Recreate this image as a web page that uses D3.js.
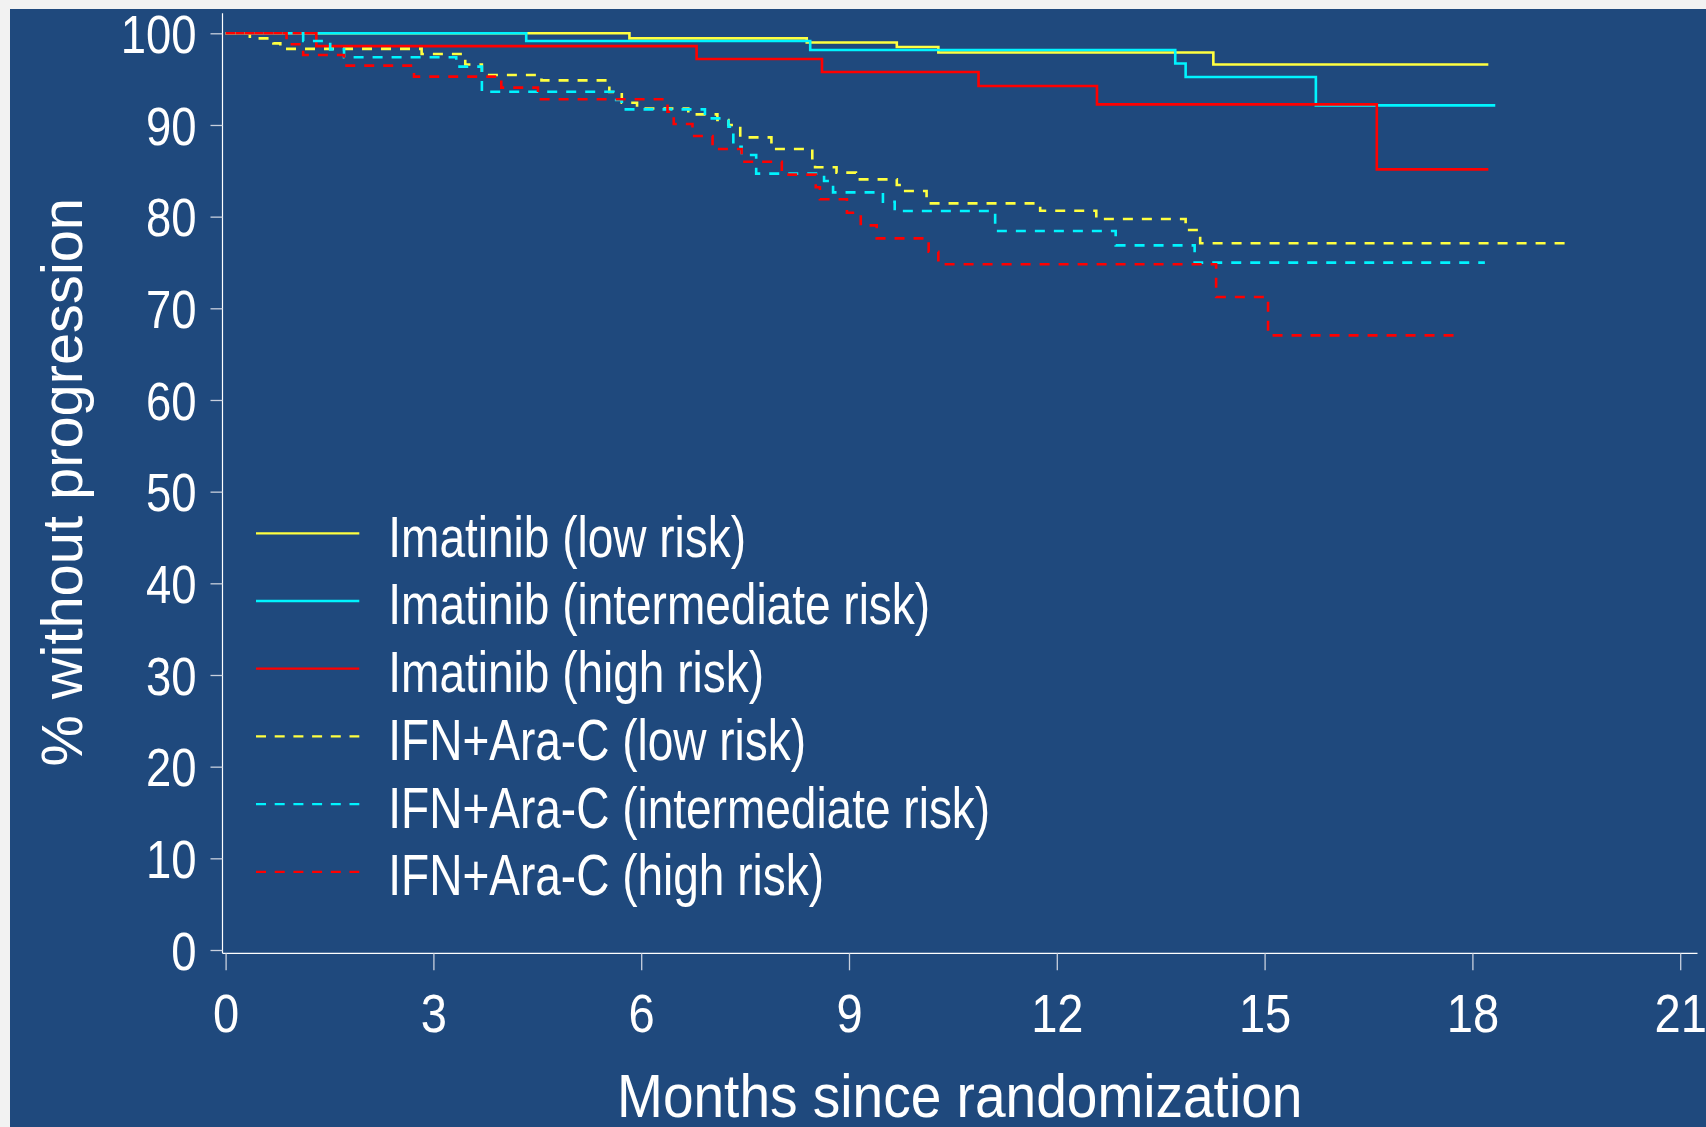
<!DOCTYPE html>
<html>
<head>
<meta charset="utf-8">
<script src="https://d3js.org/d3.v7.min.js"></script>
<style>
  body { margin: 0; background: #f2f2f2; }
  text { font-family: "Liberation Sans", Arial, sans-serif; fill: #ffffff; }
</style>
</head>
<body>
<div id="my_chart"></div>
<script>
// Kaplan-Meier steps: month where each step starts, % without progression from there on
// (last entry = end of follow-up)
const imaLowMonths = [0, 5.83, 8.39, 9.69, 10.29, 14.26, 18.23];
const imaLowPct = [100, 99.45, 99.0, 98.5, 97.9, 96.6, 96.6];

const imaIntMonths = [0, 4.34, 8.44, 13.71, 13.86, 15.74, 18.33];
const imaIntPct = [100, 99.16, 98.18, 96.7, 95.23, 92.14, 92.14];

const imaHighMonths = [0, 1.31, 6.8, 8.61, 10.87, 12.58, 16.62, 18.23];
const imaHighPct = [100, 98.6, 97.2, 95.78, 94.25, 92.25, 85.16, 85.16];

const ifnLowMonths = [0, 0.35, 0.69, 0.79, 2.83, 3.46, 3.7, 4.56, 5.54, 5.72, 5.94, 6.68, 7.1, 7.26,
  7.43, 7.88, 8.47, 8.51, 8.82, 9.1, 9.69, 9.79, 10.12, 11.76, 12.57, 13.86, 14.07, 19.41];
const ifnLowPct = [100, 99.45, 98.9, 98.3, 97.74, 96.6, 95.45, 94.87, 93.6, 92.43, 91.8, 91.16, 90.54, 90.0,
  88.65, 87.38, 85.98, 85.38, 84.8, 84.07, 83.45, 82.8, 81.45, 80.65, 79.74, 78.54, 77.09, 77.09];

const ifnIntMonths = [0, 1.12, 1.51, 1.71, 3.33, 3.7, 5.6, 5.72, 6.92, 7.26, 7.33, 7.45, 7.66, 8.64,
  8.77, 9.49, 9.66, 11.11, 12.85, 13.99, 18.18];
const ifnIntPct = [100, 99.16, 98.25, 97.38, 96.36, 93.63, 92.72, 91.7, 90.72, 89.81, 87.63, 86.72, 84.69, 83.89,
  82.65, 81.63, 80.61, 78.43, 76.87, 74.98, 74.98];

const ifnHighMonths = [0, 0.88, 1.12, 1.71, 2.72, 3.98, 4.51, 6.38, 6.47, 6.74, 7.03, 7.45, 8.03, 8.52,
  8.58, 8.97, 9.17, 9.4, 10.15, 10.29, 14.3, 15.05, 17.84];
const ifnHighPct = [100, 98.8, 97.63, 96.47, 95.27, 94.07, 92.8, 91.45, 90.1, 88.8, 87.38, 85.99, 84.58, 83.2,
  81.89, 80.43, 79.05, 77.63, 76.17, 74.8, 71.23, 67.05, 67.05];

const seriesNames = [
  "Imatinib (low risk)",
  "Imatinib (intermediate risk)",
  "Imatinib (high risk)",
  "IFN+Ara-C (low risk)",
  "IFN+Ara-C (intermediate risk)",
  "IFN+Ara-C (high risk)"
];

const xTicks = [0, 3, 6, 9, 12, 15, 18, 21];
const yTicks = [0, 10, 20, 30, 40, 50, 60, 70, 80, 90, 100];

const xTitle = "Months since randomization";
const yTitle = "% without progression";

window.onload = () => {
  var width = 1706,
    height = 1127;

  let svg = d3
    .select("#my_chart")
    .append("svg")
    .attr("width", width)
    .attr("height", height);

  // blue panel (thin grey strip left + top)
  svg
    .append("rect")
    .attr("x", 10)
    .attr("y", 9)
    .attr("width", width - 10)
    .attr("height", height - 9)
    .attr("fill", "#1f497d");

  let x = d3.scaleLinear().domain([0, 21]).range([225.6, 1680.2]);
  let y = d3.scaleLinear().domain([0, 100]).range([950, 33.3]);

  var axisX = 222.5,
    axisY = 953.3;

  // axis lines
  svg
    .append("line")
    .attr("x1", axisX)
    .attr("x2", axisX)
    .attr("y1", 13.3)
    .attr("y2", axisY)
    .attr("stroke", "#ffffff")
    .attr("stroke-width", 1.2);

  svg
    .append("line")
    .attr("x1", axisX)
    .attr("x2", 1697.5)
    .attr("y1", axisY)
    .attr("y2", axisY)
    .attr("stroke", "#ffffff")
    .attr("stroke-width", 1.2);

  // y axis
  let yAxis = svg
    .append("g")
    .attr("transform", "translate(" + axisX + ",0)")
    .call(d3.axisLeft(y).tickValues(yTicks).tickSize(12).tickPadding(14));

  yAxis.attr("font-size", null).attr("font-family", null);
  yAxis.select(".domain").remove();
  yAxis.selectAll(".tick line").attr("stroke", "#c8d0de").attr("stroke-width", 1.3);
  yAxis
    .selectAll(".tick text")
    .attr("fill", "#ffffff")
    .attr("font-size", 53.5)
    .attr("dy", null)
    .attr("y", 19.2)
    .attr("transform", function () {
      return "translate(" + this.getAttribute("x") + ",0) scale(0.85,1)";
    })
    .attr("x", 0);

  // x axis
  let xAxis = svg
    .append("g")
    .attr("transform", "translate(0," + axisY + ")")
    .call(d3.axisBottom(x).tickValues(xTicks).tickSize(17));

  xAxis.attr("font-size", null).attr("font-family", null);
  xAxis.select(".domain").remove();
  xAxis.selectAll(".tick line").attr("stroke", "#c8d0de").attr("stroke-width", 1.3);
  xAxis
    .selectAll(".tick text")
    .attr("fill", "#ffffff")
    .attr("font-size", 53.5)
    .attr("dy", null)
    .attr("y", 78.5)
    .attr("transform", "scale(0.88,1)");

  // axis titles
  svg
    .append("text")
    .attr("transform", "translate(959.7,1116.7) scale(0.91,1)")
    .attr("text-anchor", "middle")
    .attr("font-size", 60.5)
    .text(xTitle);

  svg
    .append("text")
    .attr("transform", "translate(81.7,482.3) rotate(-90)")
    .attr("text-anchor", "middle")
    .attr("font-size", 57.8)
    .text(yTitle);

  // curves
  let series = [
    { months: imaLowMonths, pct: imaLowPct, color: "#ffff40", dash: null },
    { months: imaIntMonths, pct: imaIntPct, color: "#00f4ff", dash: null },
    { months: imaHighMonths, pct: imaHighPct, color: "#ff0000", dash: null },
    { months: ifnLowMonths, pct: ifnLowPct, color: "#ffff40", dash: "10,9" },
    { months: ifnIntMonths, pct: ifnIntPct, color: "#00f4ff", dash: "10,9" },
    { months: ifnHighMonths, pct: ifnHighPct, color: "#ff0000", dash: "10,9" }
  ];

  let line = d3
    .line()
    .x((d) => x(d[0]))
    .y((d) => y(d[1]))
    .curve(d3.curveStepAfter);

  svg
    .append("g")
    .selectAll("path")
    .data(series)
    .enter()
    .append("path")
    .attr("d", (d) => line(d3.zip(d.months, d.pct)))
    .attr("fill", "none")
    .attr("stroke", (d) => d.color)
    .attr("stroke-width", 2.6)
    .attr("stroke-dasharray", (d) => d.dash);

  // legend
  var legTop = 533.3,
    legStep = 67.7;

  let legend = svg
    .append("g")
    .selectAll("g")
    .data(series)
    .enter()
    .append("g")
    .attr("transform", (d, i) => "translate(0," + (legTop + i * legStep) + ")");

  legend
    .append("line")
    .attr("x1", 256)
    .attr("x2", 359.3)
    .attr("stroke", (d) => d.color)
    .attr("stroke-width", 2.3)
    .attr("stroke-dasharray", (d) => (d.dash ? "10,8.7" : null));

  legend
    .append("text")
    .attr("transform", "translate(388.3,23.4) scale(0.81,1)")
    .attr("font-size", 56.8)
    .text((d, i) => seriesNames[i]);
};
</script>
</body>
</html>
